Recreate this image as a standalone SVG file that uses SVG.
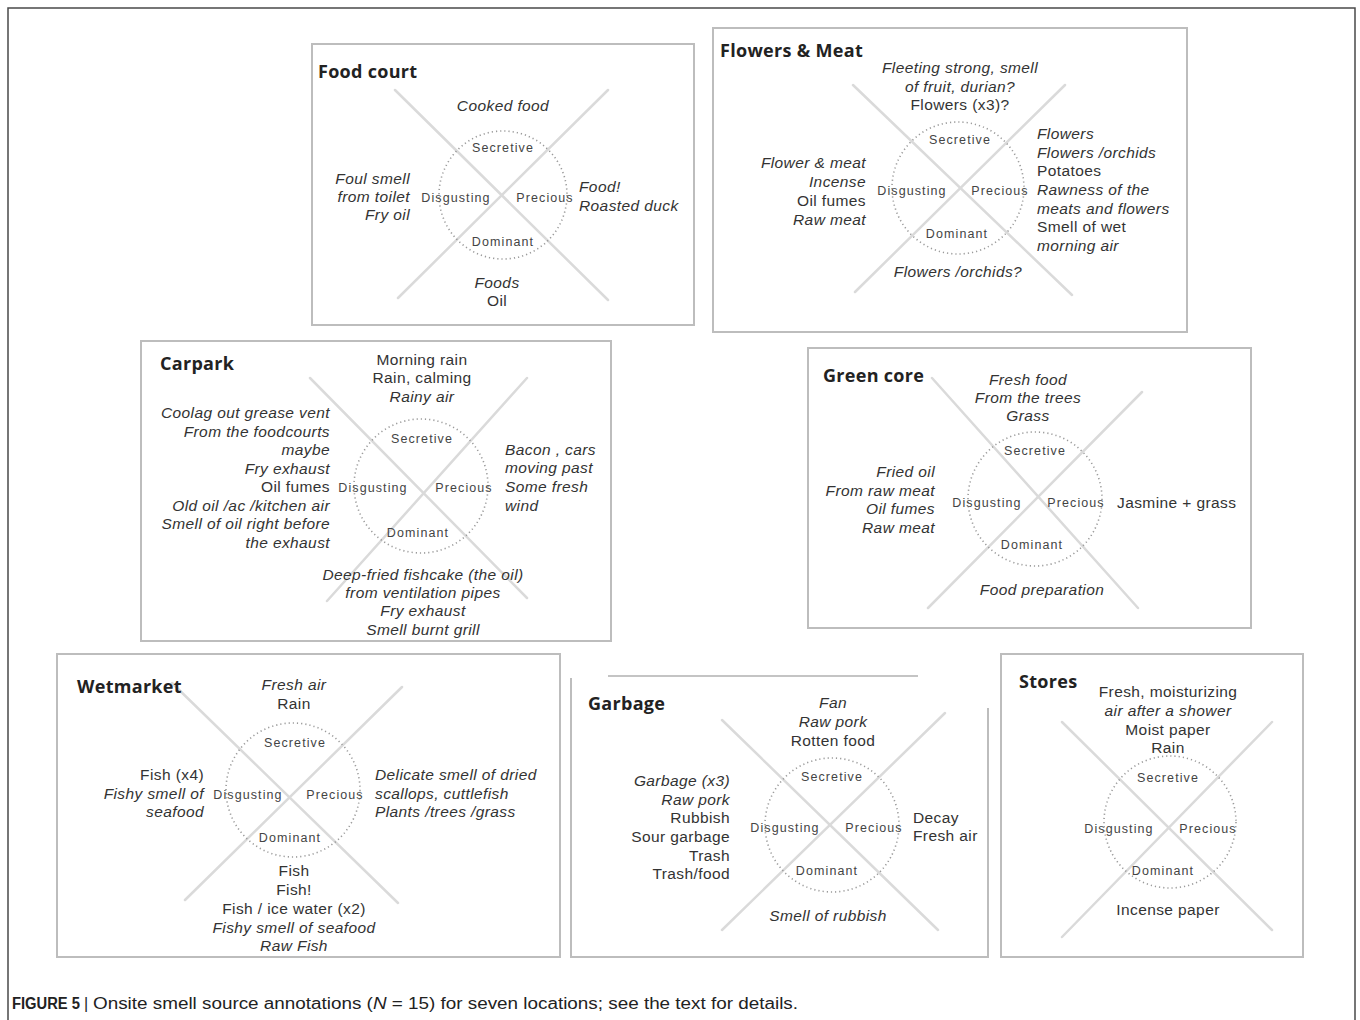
<svg xmlns="http://www.w3.org/2000/svg" width="1360" height="1020" viewBox="0 0 1360 1020">
<style>
.frame{fill:none;stroke:#4a4a4a;stroke-width:1.5}
.panel{fill:#fff;stroke:#bdbdbd;stroke-width:2}
.x{stroke:#dadada;stroke-width:2.5;stroke-linecap:round}
.ring{fill:none;stroke:#9a9a9a;stroke-width:1.6;stroke-dasharray:1.2 3}
text{font-family:"Liberation Sans",Arial,sans-serif;fill:#333}
.title{font-family:"Open Sans","DejaVu Sans",sans-serif;font-size:18px;font-weight:bold;fill:#222;letter-spacing:0.3px}
.t{font-size:15.5px;font-style:italic;letter-spacing:0.4px}
.u{font-style:normal}
.lab{font-size:12.5px;fill:#444;text-anchor:middle;letter-spacing:1.1px}
.m{text-anchor:middle}
.e{text-anchor:end}
.cap{font-family:"Liberation Sans",Arial,sans-serif;font-size:16px;fill:#222}
</style>
<rect width="1360" height="1020" fill="#fff"/>
<path class="frame" d="M8,1020 V8 H1355 V1020"/>

<g id="food-court">
<rect class="panel" x="312" y="44" width="382" height="281"/>
<line class="x" x1="395" y1="90" x2="608" y2="300"/>
<line class="x" x1="608" y1="90" x2="398" y2="298"/>
<circle class="ring" cx="503" cy="195" r="64"/>
<text class="title" x="318" y="78">Food court</text>
<text class="t m" x="503" y="111">Cooked food</text>
<text class="lab" x="503" y="152">Secretive</text>
<text class="lab" x="456" y="202">Disgusting</text>
<text class="lab" x="545" y="202">Precious</text>
<text class="lab" x="503" y="246">Dominant</text>
<text class="t e" x="410" y="184">Foul smell</text>
<text class="t e" x="410" y="202">from toilet</text>
<text class="t e" x="410" y="220">Fry oil</text>
<text class="t" x="579" y="192">Food!</text>
<text class="t" x="579" y="211">Roasted duck</text>
<text class="t m" x="497" y="288">Foods</text>
<text class="t u m" x="497" y="306">Oil</text>
</g>

<g id="flowers-meat">
<rect class="panel" x="713" y="28" width="474" height="304"/>
<line class="x" x1="853" y1="85" x2="1072" y2="295"/>
<line class="x" x1="1065" y1="85" x2="855" y2="292"/>
<circle class="ring" cx="958" cy="188" r="66"/>
<text class="title" x="720" y="57">Flowers &amp; Meat</text>
<text class="t m" x="960" y="73">Fleeting strong, smell</text>
<text class="t m" x="960" y="92">of fruit, durian?</text>
<text class="t u m" x="960" y="110">Flowers (x3)?</text>
<text class="lab" x="960" y="144">Secretive</text>
<text class="lab" x="912" y="195">Disgusting</text>
<text class="lab" x="1000" y="195">Precious</text>
<text class="lab" x="957" y="238">Dominant</text>
<text class="t e" x="866" y="168">Flower &amp; meat</text>
<text class="t e" x="866" y="187">Incense</text>
<text class="t u e" x="866" y="206">Oil fumes</text>
<text class="t e" x="866" y="225">Raw meat</text>
<text class="t" x="1037" y="139">Flowers</text>
<text class="t" x="1037" y="158">Flowers /orchids</text>
<text class="t u" x="1037" y="176">Potatoes</text>
<text class="t" x="1037" y="195">Rawness of the</text>
<text class="t" x="1037" y="214">meats and flowers</text>
<text class="t u" x="1037" y="232">Smell of wet</text>
<text class="t" x="1037" y="251">morning air</text>
<text class="t m" x="958" y="277">Flowers /orchids?</text>
</g>

<g id="carpark">
<rect class="panel" x="141" y="341" width="470" height="300"/>
<line class="x" x1="310" y1="378" x2="527" y2="598"/>
<line class="x" x1="527" y1="378" x2="327" y2="601"/>
<circle class="ring" cx="421" cy="486" r="67"/>
<text class="title" x="160" y="370">Carpark</text>
<text class="t u m" x="422" y="365">Morning rain</text>
<text class="t u m" x="422" y="383">Rain, calming</text>
<text class="t m" x="422" y="402">Rainy air</text>
<text class="lab" x="422" y="443">Secretive</text>
<text class="lab" x="373" y="492">Disgusting</text>
<text class="lab" x="464" y="492">Precious</text>
<text class="lab" x="418" y="537">Dominant</text>
<text class="t e" x="330" y="418">Coolag out grease vent</text>
<text class="t e" x="330" y="437">From the foodcourts</text>
<text class="t e" x="330" y="455">maybe</text>
<text class="t e" x="330" y="474">Fry exhaust</text>
<text class="t u e" x="330" y="492">Oil fumes</text>
<text class="t e" x="330" y="511">Old oil /ac /kitchen air</text>
<text class="t e" x="330" y="529">Smell of oil right before</text>
<text class="t e" x="330" y="548">the exhaust</text>
<text class="t" x="505" y="455">Bacon , cars</text>
<text class="t" x="505" y="473">moving past</text>
<text class="t" x="505" y="492">Some fresh</text>
<text class="t" x="505" y="511">wind</text>
<text class="t m" x="423" y="580">Deep-fried fishcake (the oil)</text>
<text class="t m" x="423" y="598">from ventilation pipes</text>
<text class="t m" x="423" y="616">Fry exhaust</text>
<text class="t m" x="423" y="635">Smell burnt grill</text>
</g>

<g id="green-core">
<rect class="panel" x="808" y="348" width="443" height="280"/>
<line class="x" x1="932" y1="378" x2="1138" y2="608"/>
<line class="x" x1="1142" y1="392" x2="928" y2="608"/>
<circle class="ring" cx="1035" cy="499" r="67"/>
<text class="title" x="823" y="382">Green core</text>
<text class="t m" x="1028" y="385">Fresh food</text>
<text class="t m" x="1028" y="403">From the trees</text>
<text class="t m" x="1028" y="421">Grass</text>
<text class="lab" x="1035" y="455">Secretive</text>
<text class="lab" x="987" y="507">Disgusting</text>
<text class="lab" x="1076" y="507">Precious</text>
<text class="lab" x="1032" y="549">Dominant</text>
<text class="t e" x="935" y="477">Fried oil</text>
<text class="t e" x="935" y="496">From raw meat</text>
<text class="t e" x="935" y="514">Oil fumes</text>
<text class="t e" x="935" y="533">Raw meat</text>
<text class="t u" x="1117" y="508">Jasmine + grass</text>
<text class="t m" x="1042" y="595">Food preparation</text>
</g>

<g id="wetmarket">
<rect class="panel" x="57" y="654" width="503" height="303"/>
<line class="x" x1="172" y1="683" x2="398" y2="903"/>
<line class="x" x1="402" y1="687" x2="185" y2="900"/>
<circle class="ring" cx="293" cy="790" r="67"/>
<text class="title" x="77" y="693">Wetmarket</text>
<text class="t m" x="294" y="690">Fresh air</text>
<text class="t u m" x="294" y="709">Rain</text>
<text class="lab" x="248" y="799">Disgusting</text>
<text class="lab" x="295" y="747">Secretive</text>
<text class="lab" x="335" y="799">Precious</text>
<text class="lab" x="290" y="842">Dominant</text>
<text class="t u e" x="204" y="780">Fish (x4)</text>
<text class="t e" x="204" y="799">Fishy smell of</text>
<text class="t e" x="204" y="817">seafood</text>
<text class="t" x="375" y="780">Delicate smell of dried</text>
<text class="t" x="375" y="799">scallops, cuttlefish</text>
<text class="t" x="375" y="817">Plants /trees /grass</text>
<text class="t u m" x="294" y="876">Fish</text>
<text class="t u m" x="294" y="895">Fish!</text>
<text class="t u m" x="294" y="914">Fish / ice water (x2)</text>
<text class="t m" x="294" y="933">Fishy smell of seafood</text>
<text class="t m" x="294" y="951">Raw Fish</text>
</g>

<g id="garbage">
<path class="panel" d="M571,678 V957 H988 V708"/>
<line x1="608" y1="676" x2="918" y2="676" stroke="#c4c4c4" stroke-width="2"/>
<line class="x" x1="722" y1="720" x2="938" y2="930"/>
<line class="x" x1="945" y1="713" x2="722" y2="930"/>
<circle class="ring" cx="832" cy="825" r="67"/>
<text class="title" x="588" y="710">Garbage</text>
<text class="t m" x="833" y="708">Fan</text>
<text class="t m" x="833" y="727">Raw pork</text>
<text class="t u m" x="833" y="746">Rotten food</text>
<text class="lab" x="832" y="781">Secretive</text>
<text class="lab" x="785" y="832">Disgusting</text>
<text class="lab" x="874" y="832">Precious</text>
<text class="lab" x="827" y="875">Dominant</text>
<text class="t e" x="730" y="786">Garbage (x3)</text>
<text class="t e" x="730" y="805">Raw pork</text>
<text class="t u e" x="730" y="823">Rubbish</text>
<text class="t u e" x="730" y="842">Sour garbage</text>
<text class="t u e" x="730" y="861">Trash</text>
<text class="t u e" x="730" y="879">Trash/food</text>
<text class="t u" x="913" y="823">Decay</text>
<text class="t u" x="913" y="841">Fresh air</text>
<text class="t m" x="828" y="921">Smell of rubbish</text>
</g>

<g id="stores">
<rect class="panel" x="1001" y="654" width="302" height="303"/>
<line class="x" x1="1062" y1="722" x2="1272" y2="930"/>
<line class="x" x1="1272" y1="722" x2="1062" y2="937"/>
<circle class="ring" cx="1170" cy="822" r="66"/>
<text class="title" x="1019" y="688">Stores</text>
<text class="t u m" x="1168" y="697">Fresh, moisturizing</text>
<text class="t m" x="1168" y="716">air after a shower</text>
<text class="t u m" x="1168" y="735">Moist paper</text>
<text class="t u m" x="1168" y="753">Rain</text>
<text class="lab" x="1168" y="782">Secretive</text>
<text class="lab" x="1119" y="833">Disgusting</text>
<text class="lab" x="1208" y="833">Precious</text>
<text class="lab" x="1163" y="875">Dominant</text>
<text class="t u m" x="1168" y="915">Incense paper</text>
</g>

<g id="caption">
<text class="cap" x="12" y="1009" font-weight="bold" textLength="68" lengthAdjust="spacingAndGlyphs">FIGURE 5</text>
<text class="cap" x="84" y="1009">|</text>
<text class="cap" x="93" y="1009" textLength="705" lengthAdjust="spacingAndGlyphs">Onsite smell source annotations (<tspan font-style="italic">N</tspan> = 15) for seven locations; see the text for details.</text>
</g>
</svg>
